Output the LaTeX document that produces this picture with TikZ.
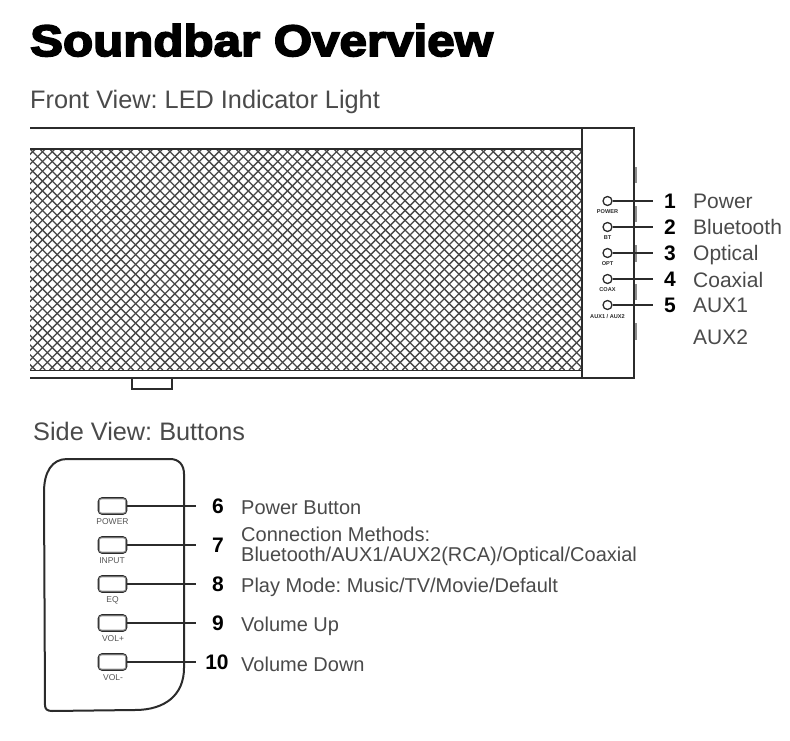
\documentclass[tikz,border=0pt]{standalone}
\usepackage{fontspec}
\setmainfont{Liberation Sans}
\newfontfamily\titlefont{Liberation Sans Bold}[FakeBold=4,FakeStretch=1.12]
\definecolor{ink}{HTML}{2B2B2B}
\definecolor{txt}{HTML}{4A4A4A}
\definecolor{smalltxt}{HTML}{555555}
\newcommand\auxlabel{AUX1 / AUX2}
\frenchspacing
\tikzset{
  heading/.style={anchor=base west,inner sep=0pt,text=txt,font=\fontsize{25.3}{30}\selectfont},
  desc/.style={anchor=base west,inner sep=0pt,text=txt,font=\fontsize{20}{24}\selectfont},
  descbig/.style={anchor=base west,inner sep=0pt,text=txt,font=\fontsize{21}{25}\selectfont},
  num/.style={inner sep=0pt,text height=14pt,text depth=0pt,text=black,font=\bfseries\fontsize{21}{25}\selectfont},
  led/.style={circle,draw=ink,line width=1.3pt,fill=white,minimum size=9pt,inner sep=0pt},
  ledlab/.style={inner sep=0pt,text=ink,font=\bfseries\fontsize{5.6}{7}\selectfont},
  btn/.style={rectangle,rounded corners=3.5pt,draw=ink,line width=1.6pt,fill=white,minimum width=28pt,minimum height=16pt,inner sep=0pt},
  btnlab/.style={inner sep=0pt,text=smalltxt,font=\fontsize{8.5}{10}\selectfont},
  conn/.style={draw=ink,line width=1.6pt},
  body/.style={draw=ink,line width=2pt},
  meshline/.style={draw=black!72,line width=1.3pt}
}
\begin{document}
\begin{tikzpicture}[x=1pt,y=-1pt]
\useasboundingbox (0,0) rectangle (790,741);
\fill[white] (0,0) rectangle (790,741);
\node[anchor=base west,inner sep=0pt,text=black,font=\titlefont\fontsize{44}{50}\selectfont] (title) at (30,56) {Soundbar Overview};
\node[heading] (front) at (30,109) {Front View: LED Indicator Light};
\node[heading] (side) at (33,440) {Side View: Buttons};
% mesh
\begin{scope}
\clip (30,149) rectangle (581,370);
\foreach \i in {-30,...,70}{
  \draw[meshline] ({30+9.8*\i},149) -- ({30+9.8*\i+221},370);
  \draw[meshline] ({30+9.8*\i+221},149) -- ({30+9.8*\i},370);
}
\end{scope}
\draw[ink,line width=1.6pt] (30,149) -- (581,149) (30,370.5) -- (581,370.5);
% right tabs
\foreach \a/\b in {167/183,206/222,245/262,284/300,323/340}{
  \fill[black!45] (633,\a) rectangle (637,\b);
}
% bar body
\draw[body] (30,128) -- (634,128) -- (634,378) -- (30,378);
\draw[body] (582,128) -- (582,378);
\draw[ink,line width=1.5pt] (132,378) -- (132,389) -- (172,389) -- (172,378);
% LEDs
\foreach \k/\y/\lab/\yl/\name/\yb in {1/201/POWER/212/Power/208,2/227/BT/238/Bluetooth/234,3/253/OPT/264/Optical/260,4/279/COAX/290/Coaxial/287,5/305/\auxlabel/316.5/AUX1/312}{
  \node[led] (led\k) at (607.5,\y) {};
  \node[ledlab] (ledlab\k) at (607.5,\yl) {\lab};
  \node[num,minimum width=34pt] (num\k) at (670,\y) {\k};
  \node[descbig] (lab\k) at (693,\yb) {\name};
  \draw[conn] (led\k) -- (num\k.west);
}
\node[descbig] (labaux) at (693,344) {AUX2};
% side panel
\draw[ink,line width=2pt] (67,459) -- (170,459) .. controls (179,459) and (184,465) .. (184,474)
  -- (184,668) .. controls (184,695) and (165,710) .. (135,710)
  -- (52,711) .. controls (47,711) and (45,709) .. (45,705)
  -- (44,492) .. controls (44,472) and (52,459) .. (67,459) -- cycle;
% buttons
\foreach \k/\y/\lab/\yl/\xl in {6/506/POWER/521.5/112.5,7/545/INPUT/561/112,8/584/EQ/600/112.5,9/623/VOL+/639/113,10/662/VOL-/678/113}{
  \node[btn] (b\k) at (112.5,\y) {};
  \draw[black!40,line width=0.9pt,rounded corners=2pt] ([shift={(1.7,1.7)}]b\k.north west) rectangle ([shift={(-1.7,-1.7)}]b\k.south east);
  \node[btnlab] (blab\k) at (\xl,\yl) {\lab};
}
\foreach \k/\y/\xc/\w in {6/506/218/44,7/545/218/44,8/584/218/44,9/623/218/44,10/662/217/42}{
  \node[num,minimum width=\w pt] (num\k) at (\xc,\y) {\k};
  \draw[conn] (b\k.east) -- (num\k.west);
}
\node[desc] (lab6) at (241,514) {Power Button};
\node[desc] (lab7a) at (241,541) {Connection Methods:};
\node[desc] (lab7b) at (241,561) {Bluetooth/AUX1/AUX2(RCA)/Optical/Coaxial};
\node[desc] (lab8) at (241,592) {Play Mode: Music/TV/Movie/Default};
\node[desc] (lab9) at (241,631) {Volume Up};
\node[desc] (lab10) at (241,671) {Volume Down};
\end{tikzpicture}
\end{document}
